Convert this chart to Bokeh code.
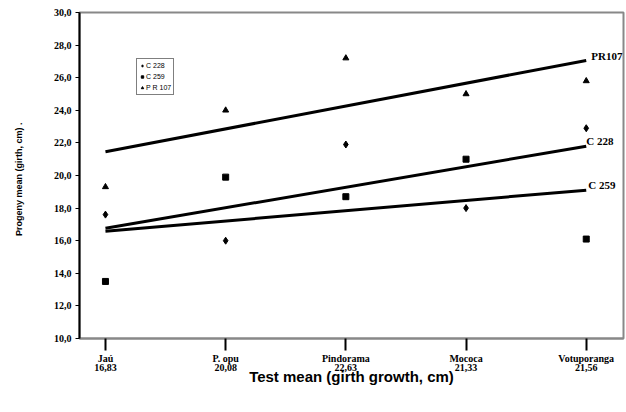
import numpy as np
from bokeh.plotting import figure
from bokeh.models import FixedTicker, Legend, LegendItem, Range1d
from bokeh.core.properties import value
from bokeh.embed import file_html
from bokeh.resources import INLINE

# ---- data ----
sites = ["Jaú", "P. opu", "Pindorama", "Mococa", "Votuporanga"]
test_means = ["16,83", "20,08", "22,63", "21,33", "21,56"]
c228 = [17.6, 16.0, 21.9, 18.0, 22.9]
c259 = [13.5, 19.9, 18.7, 21.0, 16.1]
pr107 = [19.3, 24.0, 27.2, 25.0, 25.8]
y_ticks = [10, 12, 14, 16, 18, 20, 22, 24, 26, 28, 30]

x = list(range(len(sites)))

SERIF = "Liberation Serif"
SANS = "Liberation Sans"

p = figure(width=626, height=412, output_backend="svg", toolbar_location=None,
           x_range=Range1d(-0.216, 4.31), y_range=Range1d(10, 30),
           min_border_left=79, min_border_right=3, min_border_top=12, min_border_bottom=74)

p.xgrid.visible = False
p.ygrid.visible = False
p.outline_line_color = "#888888"
p.outline_line_width = 2
p.background_fill_color = "white"
p.border_fill_color = "white"

# y axis
p.yaxis.ticker = FixedTicker(ticks=y_ticks)
p.yaxis.major_label_overrides = {t: f"{t},0" for t in y_ticks}
p.yaxis.major_label_text_font = SERIF
p.yaxis.major_label_text_font_style = "bold"
p.yaxis.major_label_text_font_size = "10px"
p.yaxis.major_label_text_color = "black"
p.yaxis.major_label_standoff = 4
p.yaxis.axis_line_color = "black"
p.yaxis.axis_line_width = 2
p.yaxis.major_tick_line_color = "black"
p.yaxis.major_tick_line_width = 1
p.yaxis.major_tick_out = 4
p.yaxis.major_tick_in = 0
p.yaxis.minor_tick_line_color = None
p.yaxis.axis_label = "Progeny mean (girth, cm)    ."
p.yaxis.axis_label_text_font = SANS
p.yaxis.axis_label_text_font_style = "bold"
p.yaxis.axis_label_text_font_size = "9px"
p.yaxis.axis_label_text_color = "black"
p.yaxis.axis_label_standoff = 27

# x axis
p.xaxis.ticker = FixedTicker(ticks=x)
p.xaxis.major_label_overrides = {i: f"{s}\n{m}" for i, (s, m) in enumerate(zip(sites, test_means))}
p.xaxis.major_label_text_font = SERIF
p.xaxis.major_label_text_font_style = "bold"
p.xaxis.major_label_text_font_size = "10px"
p.xaxis.major_label_text_line_height = 0.85
p.xaxis.major_label_text_color = "black"
p.xaxis.axis_line_color = "#888888"
p.xaxis.axis_line_width = 2
p.xaxis.major_tick_line_color = "black"
p.xaxis.major_tick_line_width = 2
p.xaxis.major_tick_out = 12
p.xaxis.major_tick_in = 0
p.xaxis.minor_tick_line_color = None
p.xaxis.major_label_standoff = 2
p.xaxis.axis_label = "Test mean (girth growth, cm)"
p.xaxis.axis_label_text_font = SANS
p.xaxis.axis_label_text_font_style = "bold"
p.xaxis.axis_label_text_font_size = "15px"
p.xaxis.axis_label_text_color = "black"
p.xaxis.axis_label_standoff = -8

# regression (trend) lines
xs = np.array(x, dtype=float)
items = []
series = [("C 228", c228, "diamond", 7), ("C 259", c259, "square", 6), ("P R 107", pr107, "triangle", 6)]
ends = {}
for name, ys, marker, size in series:
    k, b = np.polyfit(xs, np.array(ys), 1)
    p.line([xs[0], xs[-1]], [b + k * xs[0], b + k * xs[-1]], line_color="black", line_width=3)
    ends[name] = b + k * xs[-1]
    r = p.scatter(x, ys, marker=marker, size=size, fill_color="black", line_color="black")
    items.append(LegendItem(label=name, renderers=[r]))

# end labels
p.text([xs[-1]], [ends["P R 107"]], text=["PR107"], text_font=value(SERIF), text_font_style="bold",
       text_font_size="11px", text_baseline="bottom", x_offset=5, y_offset=2)
p.text([xs[-1]], [ends["C 228"]], text=["C 228"], text_font=value(SERIF), text_font_style="bold",
       text_font_size="11px", text_baseline="bottom", x_offset=0, y_offset=1)
p.text([xs[-1]], [ends["C 259"]], text=["C 259"], text_font=value(SERIF), text_font_style="bold",
       text_font_size="11px", text_baseline="bottom", x_offset=2, y_offset=1)

legend = Legend(items=items, location=(57, 243), orientation="vertical")
legend.label_text_font = SANS
legend.label_text_font_size = "7px"
legend.label_text_color = "black"
legend.glyph_height = 9
legend.glyph_width = 6
legend.label_height = 9
legend.label_standoff = 1
legend.padding = 2
legend.spacing = 2
legend.margin = 0
legend.border_line_color = "black"
legend.border_line_width = 1
legend.background_fill_alpha = 1
p.add_layout(legend, "center")

open("out.html", "w").write(file_html(p, INLINE))
